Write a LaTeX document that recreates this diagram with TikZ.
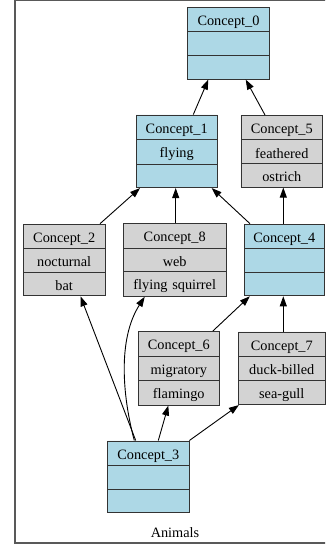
\documentclass[tikz,border=0pt]{standalone}
\usepackage{fontspec}
\setmainfont{Liberation Serif}
\usetikzlibrary{shapes.multipart,arrows.meta}
\definecolor{conceptblue}{HTML}{ADD8E6}
\definecolor{conceptgrey}{HTML}{D3D3D3}
\newcommand\cfont{\fontsize{14.3pt}{17pt}\selectfont}
\newcommand\cstrut{\rule[-2.15pt]{0pt}{17pt}}
\newcommand\cparts[3]{\cstrut#1\nodepart{two}\cstrut#2\nodepart{three}\cstrut#3}
\tikzset{
  concept/.style={rectangle split, rectangle split parts=3, draw=black!80,
    line width=0.9pt, inner xsep=0pt, inner ysep=2.85pt,
    text width=#1, align=center, font=\cfont},
  blue/.style={concept=#1, fill=conceptblue},
  grey/.style={concept=#1, fill=conceptgrey},
  link/.style={draw=black, line width=0.9pt, -{Triangle[length=10pt,width=7pt]}},
}
\begin{document}
\begin{tikzpicture}[x=1pt,y=-1pt]
  \useasboundingbox (0,0) rectangle (325,546);
  \begin{scope}
    \clip (0,0) rectangle (325,546);
    \draw[black!65, line width=1.4pt] (15,0.4) rectangle (345,542.8);
  \end{scope}

  % concepts
  \node[blue=81.6pt] (c0) at (228.5,43.3) {\cparts{Concept\_0}{}{}};
  \node[blue=81.3pt] (c1) at (176.7,151.3) {\cparts{Concept\_1}{flying}{}};
  \node[grey=81.7pt] (c5) at (281.8,151.3) {\cparts{Concept\_5}{feathered}{ostrich}};
  \node[grey=81.7pt] (c2) at (64.2,260) {\cparts{Concept\_2}{nocturnal}{bat}};
  \node[grey=102.7pt] (c8) at (174.7,260) {\cparts{Concept\_8}{web}{flying squirrel}};
  \node[blue=80.6pt] (c4) at (284.3,260) {\cparts{Concept\_4}{}{}};
  \node[grey=81pt] (c6) at (178.8,368.3) {\cparts{Concept\_6}{migratory}{flamingo}};
  \node[grey=87pt] (c7) at (281.8,368.3) {\cparts{Concept\_7}{duck-billed}{sea-gull}};
  \node[blue=81.3pt] (c3) at (148.3,476.8) {\cparts{Concept\_3}{}{}};

  \node[font=\cfont, inner sep=0pt] (title) at (175,533) {Animals};

  % order relations
  \draw[link] ([xshift=16.6pt]c1.north) -- ([xshift=-20.2pt]c0.south);
  \draw[link] ([xshift=-16.8pt]c5.north) -- ([xshift=17.2pt]c0.south);
  \draw[link] ([xshift=35.8pt]c2.north) -- ([xshift=-36.7pt]c1.south);
  \draw[link] ([xshift=1pt]c8.north) -- ([xshift=-1pt]c1.south);
  \draw[link] ([xshift=-34.3pt]c4.north) -- ([xshift=35pt]c1.south);
  \draw[link] ([xshift=-1pt]c4.north) -- ([xshift=1.5pt]c5.south);
  \draw[link] ([xshift=-12.6pt]c3.north) -- ([xshift=16.3pt]c2.south);
  \draw[link] ([xshift=-14pt]c3.north) .. controls ++(-12,-45) and ++(-27,42) .. ([xshift=-30pt]c8.south);
  \draw[link] ([xshift=10pt]c3.north) -- ([xshift=-10.5pt]c6.south);
  \draw[link] (c3.north east) -- ([xshift=1pt]c7.south west);
  \draw[link] ([xshift=34pt]c6.north) -- ([xshift=-34.5pt]c4.south);
  \draw[link] ([xshift=1.5pt]c7.north) -- ([xshift=-1pt]c4.south);
\end{tikzpicture}
\end{document}
